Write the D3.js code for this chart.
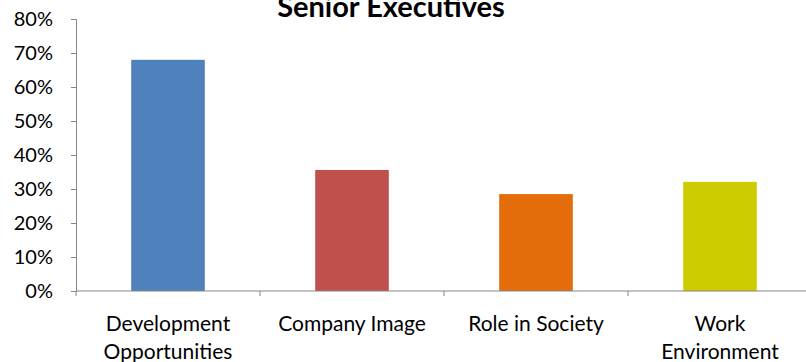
<!DOCTYPE html>
<html>
<head>
<meta charset="utf-8">
<script src="https://cdn.jsdelivr.net/npm/d3@7"></script>
<style>
  html, body { margin: 0; padding: 0; background: #fff; }
  svg { display: block; }
  text { font-family: Lato, "Open Sans", sans-serif; fill: #000; }
</style>
</head>
<body>
<svg id="chart" width="806" height="362"></svg>
<script>
// Share of senior executives citing each factor
const categories = ["Development\nOpportunities", "Company Image", "Role in Society", "Work\nEnvironment"];
const values = [0.68, 0.356, 0.285, 0.321];
const colors = ["#4F81BD", "#C0504D", "#E46C0A", "#CCCC00"];
const yTicks = [0, 0.1, 0.2, 0.3, 0.4, 0.5, 0.6, 0.7, 0.8];
const title = "Senior Executives";

const svg = d3.select("#chart");
const plotLeft = 76, plotBottom = 291, plotTop = 19, bandW = 184;

const x = d3.scaleBand()
  .domain(categories)
  .range([plotLeft, plotLeft + bandW * categories.length])
  .paddingInner(0.6)
  .paddingOuter(0.3);

const y = d3.scaleLinear().domain([0, 0.8]).range([plotBottom, plotTop]);

// Bars
svg.append("g").selectAll("rect")
  .data(categories)
  .join("rect")
  .attr("x", d => x(d))
  .attr("width", x.bandwidth())
  .attr("y", (d, i) => y(values[i]))
  .attr("height", (d, i) => y(0) - y(values[i]))
  .attr("fill", (d, i) => colors[i]);

// Y axis
const yAxis = svg.append("g")
  .attr("transform", `translate(${plotLeft},0)`)
  .call(d3.axisLeft(y).tickValues(yTicks).tickFormat(d3.format(".0%")).tickSizeOuter(0).tickSize(5).tickPadding(18));
yAxis.select(".domain").attr("stroke", "#868686");
yAxis.selectAll(".tick line").attr("stroke", "#868686");
yAxis.selectAll(".tick text").attr("font-size", 20).attr("font-family", "Lato, sans-serif").attr("fill", "#000");

// X axis (category boundaries as ticks)
const xAxis = svg.append("g").attr("transform", `translate(0,${plotBottom})`);
xAxis.append("line")
  .attr("x1", plotLeft).attr("x2", plotLeft + bandW * categories.length)
  .attr("stroke", "#868686");
xAxis.selectAll("line.tk")
  .data(d3.range(categories.length + 1))
  .join("line")
  .attr("class", "tk")
  .attr("x1", i => plotLeft + bandW * i).attr("x2", i => plotLeft + bandW * i)
  .attr("y1", 0).attr("y2", 5)
  .attr("stroke", "#868686");

// Category labels
const lbl = svg.append("g").selectAll("text")
  .data(categories)
  .join("text")
  .attr("text-anchor", "middle")
  .attr("font-size", 21)
  .attr("transform", d => `translate(${x(d) + x.bandwidth() / 2},${plotBottom + 40})`);
lbl.selectAll("tspan")
  .data(d => d.split("\n"))
  .join("tspan")
  .attr("x", 0)
  .attr("dy", (d, i) => i === 0 ? 0 : 28)
  .text(d => d);

// Title
svg.append("text")
  .attr("x", 391).attr("y", 17)
  .attr("text-anchor", "middle")
  .attr("font-size", 29)
  .attr("font-weight", "bold")
  .text(title);
</script>
</body>
</html>
